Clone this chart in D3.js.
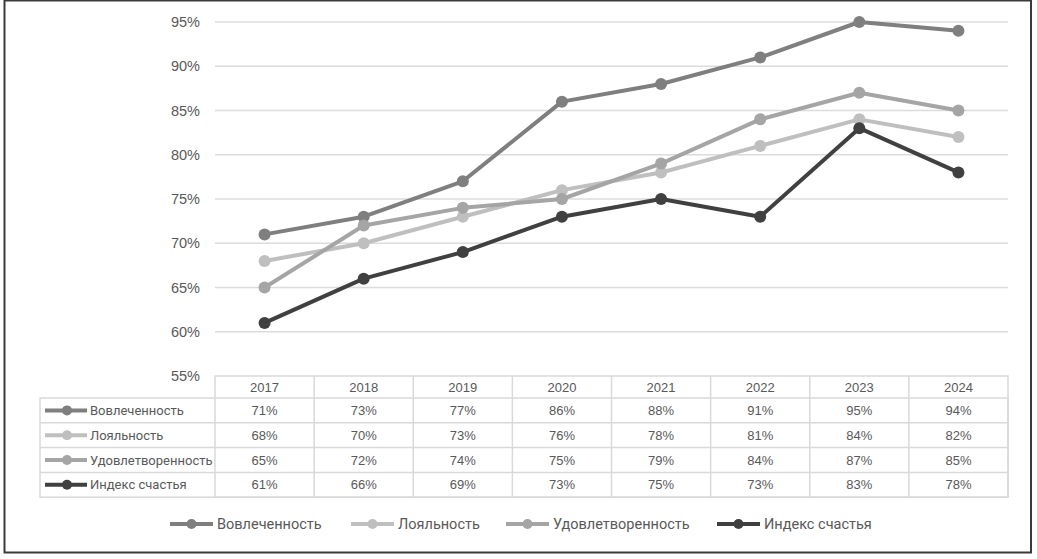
<!DOCTYPE html>
<html>
<head>
<meta charset="utf-8">
<script src="https://cdn.jsdelivr.net/npm/d3@7"></script>
<style>
  html, body { margin: 0; padding: 0; background: #fff; }
  svg { display: block; }
</style>
</head>
<body>
<svg id="chart" width="1037" height="559"></svg>
<script>
const years = ["2017", "2018", "2019", "2020", "2021", "2022", "2023", "2024"];
const seriesNames = ["Вовлеченность", "Лояльность", "Удовлетворенность", "Индекс счастья"];
const engagement = [71, 73, 77, 86, 88, 91, 95, 94];
const loyalty = [68, 70, 73, 76, 78, 81, 84, 82];
const satisfaction = [65, 72, 74, 75, 79, 84, 87, 85];
const happiness = [61, 66, 69, 73, 75, 73, 83, 78];
const yTicks = [55, 60, 65, 70, 75, 80, 85, 90, 95];
const colors = ["#7f7f7f", "#bfbfbf", "#a5a5a5", "#404040"];

const series = [
  { name: seriesNames[0], values: engagement, color: colors[0] },
  { name: seriesNames[1], values: loyalty, color: colors[1] },
  { name: seriesNames[2], values: satisfaction, color: colors[2] },
  { name: seriesNames[3], values: happiness, color: colors[3] }
];

const svg = d3.select("#chart");
const plotLeft = 215, plotRight = 1008, plotTop = 22, plotBottom = 376;
const tableLeft = 40, headerH = 22, rowH = 24.8;

const x = d3.scaleBand().domain(years).range([plotLeft, plotRight]);
const y = d3.scaleLinear().domain([55, 95]).range([plotBottom, plotTop]);

// outer frame
svg.append("rect").attr("x", 4.5).attr("y", 0.5).attr("width", 1026.5).attr("height", 552)
  .attr("fill", "#fff").attr("stroke", "#3a3a3a").attr("stroke-width", 2);

// gridlines
svg.append("g").selectAll("line").data(yTicks.filter(t => t > 55)).join("line")
  .attr("x1", plotLeft).attr("x2", plotRight)
  .attr("y1", d => y(d)).attr("y2", d => y(d))
  .attr("stroke", "#dcdcdc").attr("stroke-width", 1.5);

// y axis labels
const yAxis = d3.axisLeft(y).tickValues(yTicks).tickSize(0).tickPadding(0).tickFormat(d => d + "%");
const yg = svg.append("g").attr("transform", `translate(200,0)`).call(yAxis);
yg.select(".domain").remove();
yg.selectAll("text").attr("font-family", "'Liberation Sans', Arial, sans-serif")
  .attr("font-size", 14.5).attr("fill", "#595959");

// lines
const line = d3.line().x((d, i) => x(years[i]) + x.bandwidth() / 2).y(d => y(d));
series.forEach(s => {
  svg.append("path").datum(s.values).attr("d", line)
    .attr("fill", "none").attr("stroke", s.color).attr("stroke-width", 4)
    .attr("stroke-linejoin", "round");
  svg.append("g").selectAll("circle").data(s.values).join("circle")
    .attr("cx", (d, i) => x(years[i]) + x.bandwidth() / 2)
    .attr("cy", d => y(d)).attr("r", 6)
    .attr("fill", s.color);
});

// data table
const tbl = svg.append("g");
const gridColor = "#d9d9d9";
const tableBottom = plotBottom + headerH + rowH * series.length;
// header row
tbl.append("rect").attr("x", plotLeft).attr("y", plotBottom).attr("width", plotRight - plotLeft)
  .attr("height", tableBottom - plotBottom).attr("fill", "none").attr("stroke", gridColor).attr("stroke-width", 1.5);
tbl.append("rect").attr("x", tableLeft).attr("y", plotBottom + headerH).attr("width", plotRight - tableLeft)
  .attr("height", rowH * series.length).attr("fill", "none").attr("stroke", gridColor).attr("stroke-width", 1.5);
// horizontal lines
series.forEach((s, i) => {
  if (i === 0) return;
  tbl.append("line").attr("x1", tableLeft).attr("x2", plotRight)
    .attr("y1", plotBottom + headerH + rowH * i).attr("y2", plotBottom + headerH + rowH * i)
    .attr("stroke", gridColor).attr("stroke-width", 1.5);
});
// vertical lines
years.forEach((yr, i) => {
  if (i === 0) return;
  tbl.append("line").attr("x1", x(yr)).attr("x2", x(yr))
    .attr("y1", plotBottom).attr("y2", tableBottom)
    .attr("stroke", gridColor).attr("stroke-width", 1.5);
});
// header labels
tbl.selectAll("text.hdr").data(years).join("text").attr("class", "hdr")
  .attr("x", d => x(d) + x.bandwidth() / 2).attr("y", plotBottom + headerH / 2)
  .attr("dy", "0.35em").attr("text-anchor", "middle")
  .attr("font-family", "'Liberation Sans', Arial, sans-serif").attr("font-size", 13).attr("fill", "#595959")
  .text(d => d);
// rows
series.forEach((s, i) => {
  const cy = plotBottom + headerH + rowH * i + rowH / 2;
  tbl.append("line").attr("x1", 45).attr("x2", 87).attr("y1", cy).attr("y2", cy)
    .attr("stroke", s.color).attr("stroke-width", 4);
  tbl.append("circle").attr("cx", 67).attr("cy", cy).attr("r", 5).attr("fill", s.color);
  tbl.append("text").attr("x", 90).attr("y", cy).attr("dy", "0.35em")
    .attr("font-family", "Roboto, sans-serif").attr("font-size", 13).attr("fill", "#595959")
    .text(s.name);
  tbl.selectAll(null).data(s.values).join("text")
    .attr("x", (d, j) => x(years[j]) + x.bandwidth() / 2).attr("y", cy).attr("dy", "0.35em")
    .attr("text-anchor", "middle")
    .attr("font-family", "'Liberation Sans', Arial, sans-serif").attr("font-size", 13).attr("fill", "#595959")
    .text(d => d + "%");
});

// legend
const legendX = [170, 351, 506, 717];
const legendY = 524;
series.forEach((s, i) => {
  const g = svg.append("g").attr("transform", `translate(${legendX[i]},${legendY})`);
  g.append("line").attr("x1", 0).attr("x2", 43).attr("y1", 0).attr("y2", 0)
    .attr("stroke", s.color).attr("stroke-width", 4);
  g.append("circle").attr("cx", 21.5).attr("cy", 0).attr("r", 5).attr("fill", s.color);
  g.append("text").attr("x", 47).attr("y", 0).attr("dy", "0.35em")
    .attr("font-family", "Roboto, sans-serif").attr("font-size", 14.5).attr("fill", "#595959")
    .text(s.name);
});
</script>
</body>
</html>
